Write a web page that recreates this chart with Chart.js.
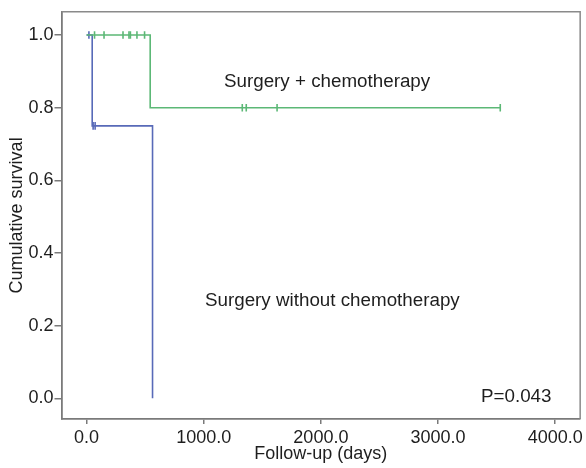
<!DOCTYPE html>
<html>
<head>
<meta charset="utf-8">
<script src="https://cdn.jsdelivr.net/npm/chart.js@4.4.1/dist/chart.umd.min.js"></script>
<style>
  html, body { margin: 0; padding: 0; background: #ffffff; }
  #wrap { width: 586px; height: 468px; }
</style>
</head>
<body>
<div id="wrap"><canvas id="c" width="586" height="468"></canvas></div>
<script>
// ---- data ----
const xTicks = [0, 1000, 2000, 3000, 4000];
const yTicks = [0, 0.2, 0.4, 0.6, 0.8, 1.0];

const chemoTimes = [0, 543, 3531];
const chemoSurv  = [1.0, 0.8, 0.8];
const chemoCensorTimes = [68, 149, 311, 362, 374, 430, 495, 1329, 1363, 1626, 3531];
const chemoCensorSurv  = [1.0, 1.0, 1.0, 1.0, 1.0, 1.0, 1.0, 0.8, 0.8, 0.8, 0.8];

const noChemoTimes = [0, 48, 563];
const noChemoSurv  = [1.0, 0.75, 0.0];
const noChemoCensorTimes = [20, 56, 73];
const noChemoCensorSurv  = [1.0, 0.75, 0.75];

const labels = {
  chemo: 'Surgery + chemotherapy',
  noChemo: 'Surgery without chemotherapy',
  p: 'P=0.043',
  xTitle: 'Follow-up (days)',
  yTitle: 'Cumulative survival'
};

// ---- helpers ----
const pts = (xs, ys) => xs.map((x, i) => ({ x: x, y: ys[i] }));
const GREEN = 'rgb(92,184,118)';
const BLUE = 'rgb(88,106,184)';
const AXIS = '#7a7a7a';
const FONT = "'Liberation Sans', Arial, Helvetica, sans-serif";

const frameAndText = {
  id: 'frameAndText',
  afterDraw(chart) {
    const { ctx, chartArea: a } = chart;
    ctx.save();
    ctx.strokeStyle = '#8a8a8a';
    ctx.lineWidth = 1.5;
    ctx.beginPath();
    ctx.moveTo(a.left, a.top);
    ctx.lineTo(a.right, a.top);
    ctx.lineTo(a.right, a.bottom);
    ctx.stroke();
    ctx.fillStyle = '#1e1e1e';
    ctx.font = '18.8px ' + FONT;
    ctx.textBaseline = 'alphabetic';
    ctx.textAlign = 'left';
    ctx.fillText(labels.chemo, 224, 87);
    ctx.fillText(labels.noChemo, 205, 306);
    ctx.fillText(labels.p, 481, 402);
    ctx.restore();
  }
};

new Chart(document.getElementById('c'), {
  type: 'scatter',
  data: {
    datasets: [
      {
        data: pts(chemoTimes, chemoSurv),
        showLine: true, stepped: 'before',
        borderColor: GREEN, borderWidth: 1.6,
        pointRadius: 0, fill: false
      },
      {
        data: pts(noChemoTimes, noChemoSurv),
        showLine: true, stepped: 'before',
        borderColor: BLUE, borderWidth: 1.6,
        pointRadius: 0, fill: false
      },
      {
        data: pts(chemoCensorTimes, chemoCensorSurv),
        showLine: false,
        pointStyle: 'line', rotation: 90, pointRadius: 3.8,
        borderColor: GREEN, borderWidth: 1.6, backgroundColor: GREEN
      },
      {
        data: pts(noChemoCensorTimes, noChemoCensorSurv),
        showLine: false,
        pointStyle: 'line', rotation: 90, pointRadius: 3.8,
        borderColor: BLUE, borderWidth: 1.6, backgroundColor: BLUE
      }
    ]
  },
  options: {
    responsive: false,
    animation: false,
    devicePixelRatio: 1,
    layout: { padding: { top: 10, right: 3, left: 0, bottom: 0 } },
    plugins: { legend: { display: false }, tooltip: { enabled: false } },
    scales: {
      x: {
        type: 'linear',
        min: -214, max: 4213,
        afterBuildTicks: s => { s.ticks = xTicks.map(v => ({ value: v })); },
        afterFit: s => { s.height = 49; },
        grid: { drawOnChartArea: false, drawTicks: true, tickLength: 5, color: AXIS, lineWidth: 1.5 },
        border: { display: true, color: AXIS, width: 1.8 },
        ticks: {
          color: '#1e1e1e', padding: 3,
          font: { family: FONT, size: 18 },
          callback: v => v.toFixed(1)
        },
        title: {
          display: true, text: labels.xTitle, color: '#1e1e1e',
          font: { family: FONT, size: 18 },
          padding: { top: 0, bottom: 3.5 }
        }
      },
      y: {
        type: 'linear',
        min: -0.057, max: 1.064,
        afterBuildTicks: s => { s.ticks = yTicks.map(v => ({ value: v })); },
        afterFit: s => { s.width = 61.5; },
        grid: { drawOnChartArea: false, drawTicks: true, tickLength: 7, color: AXIS, lineWidth: 1.5 },
        border: { display: true, color: AXIS, width: 1.8 },
        ticks: {
          color: '#1e1e1e', padding: 1,
          font: { family: FONT, size: 18 },
          callback: v => v.toFixed(1)
        },
        title: {
          display: true, text: labels.yTitle, color: '#1e1e1e',
          font: { family: FONT, size: 18 },
          padding: { top: 6, bottom: 0 }
        }
      }
    }
  },
  plugins: [frameAndText]
});
</script>
</body>
</html>
